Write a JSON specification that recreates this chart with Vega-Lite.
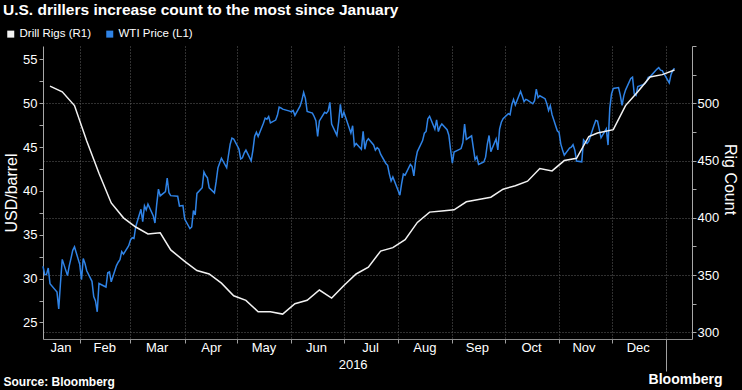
{
  "$schema": "https://vega.github.io/schema/vega-lite/v6.json",
  "width": 649,
  "height": 293,
  "autosize": {"type": "none"},
  "padding": {"left": 43, "top": 46, "right": 50, "bottom": 51},
  "background": "#000000",
  "config": {
    "font": "Liberation Sans",
    "view": {"stroke": null},
    "axis": {"labelFont": "Liberation Sans", "titleFont": "Liberation Sans"},
    "legend": {"symbolType": "square"}
  },
  "title": {
    "text": "U.S. drillers increase count to the most since January",
    "anchor": "start",
    "frame": "group",
    "dx": -40,
    "offset": 10,
    "fontSize": 15.5,
    "fontWeight": "bold",
    "color": "#ffffff",
    "font": "Liberation Sans"
  },
  "datasets": {
    "wti": [
      {"date":"2016-01-11","price":31.41},{"date":"2016-01-12","price":30.44},{"date":"2016-01-13","price":30.48},{"date":"2016-01-14","price":31.20},{"date":"2016-01-15","price":29.42},{"date":"2016-01-19","price":28.46},{"date":"2016-01-20","price":26.55},{"date":"2016-01-21","price":29.53},{"date":"2016-01-22","price":32.19},{"date":"2016-01-25","price":30.34},{"date":"2016-01-26","price":31.45},{"date":"2016-01-27","price":32.30},{"date":"2016-01-28","price":33.22},{"date":"2016-01-29","price":33.62},
      {"date":"2016-02-01","price":31.62},{"date":"2016-02-02","price":29.88},{"date":"2016-02-03","price":32.28},{"date":"2016-02-04","price":31.72},{"date":"2016-02-05","price":30.89},{"date":"2016-02-08","price":29.69},{"date":"2016-02-09","price":27.94},{"date":"2016-02-10","price":27.45},{"date":"2016-02-11","price":26.21},{"date":"2016-02-12","price":29.44},{"date":"2016-02-16","price":29.04},{"date":"2016-02-17","price":30.66},{"date":"2016-02-18","price":30.77},{"date":"2016-02-19","price":29.64},{"date":"2016-02-22","price":31.48},{"date":"2016-02-23","price":31.87},{"date":"2016-02-24","price":32.15},{"date":"2016-02-25","price":33.07},{"date":"2016-02-26","price":32.78},{"date":"2016-02-29","price":33.75},
      {"date":"2016-03-01","price":34.40},{"date":"2016-03-02","price":34.66},{"date":"2016-03-03","price":34.57},{"date":"2016-03-04","price":35.92},{"date":"2016-03-07","price":37.90},{"date":"2016-03-08","price":36.50},{"date":"2016-03-09","price":38.29},{"date":"2016-03-10","price":37.84},{"date":"2016-03-11","price":38.50},{"date":"2016-03-14","price":37.18},{"date":"2016-03-15","price":36.34},{"date":"2016-03-16","price":38.46},{"date":"2016-03-17","price":40.20},{"date":"2016-03-18","price":39.44},{"date":"2016-03-21","price":39.91},{"date":"2016-03-22","price":41.45},{"date":"2016-03-23","price":39.79},{"date":"2016-03-24","price":39.46},{"date":"2016-03-28","price":39.39},{"date":"2016-03-29","price":38.28},{"date":"2016-03-30","price":38.32},{"date":"2016-03-31","price":38.34},
      {"date":"2016-04-01","price":36.79},{"date":"2016-04-04","price":35.70},{"date":"2016-04-05","price":35.89},{"date":"2016-04-06","price":37.75},{"date":"2016-04-07","price":37.26},{"date":"2016-04-08","price":39.72},{"date":"2016-04-11","price":40.36},{"date":"2016-04-12","price":42.17},{"date":"2016-04-13","price":41.76},{"date":"2016-04-14","price":41.50},{"date":"2016-04-15","price":40.36},{"date":"2016-04-18","price":39.78},{"date":"2016-04-19","price":41.08},{"date":"2016-04-20","price":42.63},{"date":"2016-04-21","price":43.18},{"date":"2016-04-22","price":43.73},{"date":"2016-04-25","price":42.64},{"date":"2016-04-26","price":44.04},{"date":"2016-04-27","price":45.33},{"date":"2016-04-28","price":46.03},{"date":"2016-04-29","price":45.92},
      {"date":"2016-05-02","price":44.78},{"date":"2016-05-03","price":43.65},{"date":"2016-05-04","price":43.78},{"date":"2016-05-05","price":44.32},{"date":"2016-05-06","price":44.66},{"date":"2016-05-09","price":43.44},{"date":"2016-05-10","price":44.66},{"date":"2016-05-11","price":46.23},{"date":"2016-05-12","price":46.70},{"date":"2016-05-13","price":46.21},{"date":"2016-05-16","price":47.72},{"date":"2016-05-17","price":48.31},{"date":"2016-05-18","price":48.19},{"date":"2016-05-19","price":48.49},{"date":"2016-05-20","price":47.75},{"date":"2016-05-23","price":48.08},{"date":"2016-05-24","price":48.62},{"date":"2016-05-25","price":49.56},{"date":"2016-05-26","price":49.48},{"date":"2016-05-27","price":49.33},{"date":"2016-05-31","price":49.10},
      {"date":"2016-06-01","price":49.01},{"date":"2016-06-02","price":49.17},{"date":"2016-06-03","price":48.62},{"date":"2016-06-06","price":49.69},{"date":"2016-06-07","price":50.36},{"date":"2016-06-08","price":51.23},{"date":"2016-06-09","price":50.56},{"date":"2016-06-10","price":49.07},{"date":"2016-06-13","price":48.88},{"date":"2016-06-14","price":48.49},{"date":"2016-06-15","price":48.01},{"date":"2016-06-16","price":46.21},{"date":"2016-06-17","price":47.98},{"date":"2016-06-20","price":48.96},{"date":"2016-06-21","price":48.85},{"date":"2016-06-22","price":49.13},{"date":"2016-06-23","price":50.11},{"date":"2016-06-24","price":47.64},{"date":"2016-06-27","price":46.33},{"date":"2016-06-28","price":47.85},{"date":"2016-06-29","price":49.88},{"date":"2016-06-30","price":48.33},
      {"date":"2016-07-01","price":48.99},{"date":"2016-07-05","price":46.60},{"date":"2016-07-06","price":47.43},{"date":"2016-07-07","price":45.14},{"date":"2016-07-08","price":45.41},{"date":"2016-07-11","price":44.76},{"date":"2016-07-12","price":46.80},{"date":"2016-07-13","price":44.75},{"date":"2016-07-14","price":45.68},{"date":"2016-07-15","price":45.95},{"date":"2016-07-18","price":45.24},{"date":"2016-07-19","price":44.65},{"date":"2016-07-20","price":44.94},{"date":"2016-07-21","price":44.75},{"date":"2016-07-22","price":44.19},{"date":"2016-07-25","price":43.13},{"date":"2016-07-26","price":42.92},{"date":"2016-07-27","price":41.92},{"date":"2016-07-28","price":41.14},{"date":"2016-07-29","price":41.60},
      {"date":"2016-08-01","price":40.06},{"date":"2016-08-02","price":39.51},{"date":"2016-08-03","price":40.83},{"date":"2016-08-04","price":41.93},{"date":"2016-08-05","price":41.80},{"date":"2016-08-08","price":43.02},{"date":"2016-08-09","price":42.77},{"date":"2016-08-10","price":41.71},{"date":"2016-08-11","price":43.49},{"date":"2016-08-12","price":44.49},{"date":"2016-08-15","price":45.74},{"date":"2016-08-16","price":46.58},{"date":"2016-08-17","price":46.79},{"date":"2016-08-18","price":48.22},{"date":"2016-08-19","price":48.52},{"date":"2016-08-22","price":47.05},{"date":"2016-08-23","price":48.10},{"date":"2016-08-24","price":46.77},{"date":"2016-08-25","price":47.33},{"date":"2016-08-26","price":47.64},{"date":"2016-08-29","price":46.98},{"date":"2016-08-30","price":46.35},{"date":"2016-08-31","price":44.70},
      {"date":"2016-09-01","price":43.16},{"date":"2016-09-02","price":44.44},{"date":"2016-09-06","price":44.83},{"date":"2016-09-07","price":45.50},{"date":"2016-09-08","price":47.62},{"date":"2016-09-09","price":45.88},{"date":"2016-09-12","price":46.29},{"date":"2016-09-13","price":44.90},{"date":"2016-09-14","price":43.58},{"date":"2016-09-15","price":43.91},{"date":"2016-09-16","price":43.03},{"date":"2016-09-19","price":43.30},{"date":"2016-09-20","price":43.85},{"date":"2016-09-21","price":45.34},{"date":"2016-09-22","price":46.32},{"date":"2016-09-23","price":44.48},{"date":"2016-09-26","price":45.93},{"date":"2016-09-27","price":44.67},{"date":"2016-09-28","price":47.05},{"date":"2016-09-29","price":47.83},{"date":"2016-09-30","price":48.24},
      {"date":"2016-10-03","price":48.81},{"date":"2016-10-04","price":48.69},{"date":"2016-10-05","price":49.83},{"date":"2016-10-06","price":50.44},{"date":"2016-10-07","price":49.81},{"date":"2016-10-10","price":51.35},{"date":"2016-10-11","price":50.79},{"date":"2016-10-12","price":50.18},{"date":"2016-10-13","price":50.44},{"date":"2016-10-14","price":50.35},{"date":"2016-10-17","price":49.94},{"date":"2016-10-18","price":50.29},{"date":"2016-10-19","price":51.60},{"date":"2016-10-20","price":50.63},{"date":"2016-10-21","price":50.85},{"date":"2016-10-24","price":50.52},{"date":"2016-10-25","price":49.96},{"date":"2016-10-26","price":49.18},{"date":"2016-10-27","price":49.72},{"date":"2016-10-28","price":48.70},{"date":"2016-10-31","price":46.86},
      {"date":"2016-11-01","price":46.67},{"date":"2016-11-02","price":45.34},{"date":"2016-11-03","price":44.66},{"date":"2016-11-04","price":44.07},{"date":"2016-11-07","price":44.89},{"date":"2016-11-08","price":44.98},{"date":"2016-11-09","price":45.27},{"date":"2016-11-10","price":44.66},{"date":"2016-11-11","price":43.41},{"date":"2016-11-14","price":43.32},{"date":"2016-11-15","price":45.81},{"date":"2016-11-16","price":45.57},{"date":"2016-11-17","price":45.42},{"date":"2016-11-18","price":45.69},{"date":"2016-11-21","price":47.49},{"date":"2016-11-22","price":48.03},{"date":"2016-11-23","price":47.96},{"date":"2016-11-25","price":46.06},{"date":"2016-11-28","price":47.08},{"date":"2016-11-29","price":45.23},{"date":"2016-11-30","price":49.44},
      {"date":"2016-12-01","price":51.06},{"date":"2016-12-02","price":51.68},{"date":"2016-12-05","price":51.79},{"date":"2016-12-06","price":50.93},{"date":"2016-12-07","price":49.77},{"date":"2016-12-08","price":50.84},{"date":"2016-12-09","price":51.50},{"date":"2016-12-12","price":52.83},{"date":"2016-12-13","price":52.98},{"date":"2016-12-14","price":51.04},{"date":"2016-12-15","price":50.90},{"date":"2016-12-16","price":51.90},{"date":"2016-12-19","price":52.12},{"date":"2016-12-20","price":52.23},{"date":"2016-12-21","price":52.49},{"date":"2016-12-22","price":52.95},{"date":"2016-12-23","price":53.02},{"date":"2016-12-27","price":53.90},{"date":"2016-12-28","price":54.06},{"date":"2016-12-29","price":53.77},{"date":"2016-12-30","price":53.72},
      {"date":"2017-01-03","price":52.33},{"date":"2017-01-04","price":53.26},{"date":"2017-01-05","price":53.76},{"date":"2017-01-06","price":53.99}
    ],
    "rigs": [
      {"date":"2016-01-15","rigs":515},{"date":"2016-01-22","rigs":510},{"date":"2016-01-29","rigs":498},{"date":"2016-02-05","rigs":467},{"date":"2016-02-12","rigs":439},{"date":"2016-02-19","rigs":413},{"date":"2016-02-26","rigs":400},{"date":"2016-03-04","rigs":392},{"date":"2016-03-11","rigs":386},{"date":"2016-03-18","rigs":387},{"date":"2016-03-24","rigs":372},{"date":"2016-04-01","rigs":362},{"date":"2016-04-08","rigs":354},{"date":"2016-04-15","rigs":351},{"date":"2016-04-22","rigs":343},{"date":"2016-04-29","rigs":332},{"date":"2016-05-06","rigs":328},{"date":"2016-05-13","rigs":318},{"date":"2016-05-20","rigs":318},{"date":"2016-05-27","rigs":316},{"date":"2016-06-03","rigs":325},{"date":"2016-06-10","rigs":328},{"date":"2016-06-17","rigs":337},{"date":"2016-06-24","rigs":330},{"date":"2016-07-01","rigs":341},{"date":"2016-07-08","rigs":351},{"date":"2016-07-15","rigs":357},{"date":"2016-07-22","rigs":371},{"date":"2016-07-29","rigs":374},{"date":"2016-08-05","rigs":381},{"date":"2016-08-12","rigs":396},{"date":"2016-08-19","rigs":405},{"date":"2016-08-26","rigs":406},{"date":"2016-09-02","rigs":407},{"date":"2016-09-09","rigs":414},{"date":"2016-09-16","rigs":416},{"date":"2016-09-23","rigs":418},{"date":"2016-09-30","rigs":425},{"date":"2016-10-07","rigs":428},{"date":"2016-10-14","rigs":432},{"date":"2016-10-21","rigs":443},{"date":"2016-10-28","rigs":441},{"date":"2016-11-04","rigs":450},{"date":"2016-11-11","rigs":452},{"date":"2016-11-18","rigs":471},{"date":"2016-11-23","rigs":474},{"date":"2016-12-02","rigs":477},{"date":"2016-12-09","rigs":498},{"date":"2016-12-16","rigs":510},{"date":"2016-12-23","rigs":523},{"date":"2016-12-30","rigs":525},{"date":"2017-01-06","rigs":529}
    ]
  },
  "resolve": {"scale": {"y": "independent"}, "axis": {"x": "independent"}},
  "layer": [
    {
      "data": {"name": "wti"},
      "mark": {"type": "line", "strokeWidth": 1.5},
      "encoding": {
        "x": {
          "field": "date",
          "type": "temporal",
          "scale": {
            "type": "utc",
            "domain": [{"year": 2016, "month": 1, "date": 11, "utc": true}, {"year": 2017, "month": 1, "date": 16, "utc": true}]
          },
          "axis": {
            "orient": "bottom",
            "values": [
              {"year": 2016, "month": 2, "date": 1, "utc": true},
              {"year": 2016, "month": 3, "date": 1, "utc": true},
              {"year": 2016, "month": 4, "date": 1, "utc": true},
              {"year": 2016, "month": 5, "date": 1, "utc": true},
              {"year": 2016, "month": 6, "date": 1, "utc": true},
              {"year": 2016, "month": 7, "date": 1, "utc": true},
              {"year": 2016, "month": 8, "date": 1, "utc": true},
              {"year": 2016, "month": 9, "date": 1, "utc": true},
              {"year": 2016, "month": 10, "date": 1, "utc": true},
              {"year": 2016, "month": 11, "date": 1, "utc": true},
              {"year": 2016, "month": 12, "date": 1, "utc": true},
              {"year": 2017, "month": 1, "date": 1, "utc": true}
            ],
            "labels": false,
            "ticks": true,
            "tickSize": {"condition": {"test": "utcmonth(datum.value) === 0", "value": 32}, "value": 4},
            "tickColor": "#a0a0a0",
            "grid": true,
            "gridColor": "#606060",
            "gridDash": [1, 2],
            "domain": true,
            "domainColor": "#8a8a8a",
            "title": "Source: Bloomberg",
            "titleX": -40,
            "titleY": 46,
            "titleAlign": "left",
            "titleBaseline": "alphabetic",
            "titleFontSize": 12,
            "titleFontWeight": "bold",
            "titleColor": "#ffffff"
          }
        },
        "y": {
          "field": "price",
          "type": "quantitative",
          "scale": {"domain": [23.11, 56.53], "nice": false, "zero": false},
          "axis": {
            "orient": "left",
            "values": [25, 27.5, 30, 32.5, 35, 37.5, 40, 42.5, 45, 47.5, 50, 52.5, 55],
            "labelExpr": "datum.value % 5 === 0 ? format(datum.value, 'd') : ''",
            "grid": false,
            "domain": true,
            "domainColor": "#a8a8a8",
            "tickColor": "#a8a8a8",
            "tickSize": 4,
            "labelColor": "#ffffff",
            "labelFontSize": 13,
            "labelPadding": 2,
            "title": "USD/barrel",
            "titleColor": "#ffffff",
            "titleFontSize": 16,
            "titleFontWeight": "normal",
            "titleX": -27,
            "titleBaseline": "alphabetic"
          }
        },
        "color": {
          "datum": "WTI Price (L1)",
          "type": "nominal",
          "scale": {"domain": ["Drill Rigs (R1)", "WTI Price (L1)"], "range": ["#f2f2f2", "#2f83e6"]},
          "legend": {
            "orient": "none",
            "legendX": -38,
            "legendY": -18,
            "direction": "horizontal",
            "title": null,
            "padding": 0,
            "symbolType": "square",
            "symbolSize": 49,
            "symbolStrokeWidth": 0,
            "labelColor": "#ffffff",
            "labelFontSize": 11.5,
            "labelFont": "Liberation Sans",
            "labelOffset": 3,
            "columnPadding": 12,
            "encode": {"symbols": {"update": {"shape": {"value": "square"}, "fill": {"scale": "color", "field": "value"}, "stroke": {"value": "transparent"}}}}
          }
        }
      }
    },
    {
      "data": {"name": "rigs"},
      "mark": {"type": "line", "strokeWidth": 1.5},
      "encoding": {
        "x": {
          "field": "date",
          "type": "temporal",
          "axis": {
            "orient": "bottom",
            "values": [
              {"year": 2016, "month": 1, "date": 21, "utc": true},
              {"year": 2016, "month": 2, "date": 15, "utc": true},
              {"year": 2016, "month": 3, "date": 16, "utc": true},
              {"year": 2016, "month": 4, "date": 16, "utc": true},
              {"year": 2016, "month": 5, "date": 16, "utc": true},
              {"year": 2016, "month": 6, "date": 15, "utc": true},
              {"year": 2016, "month": 7, "date": 16, "utc": true},
              {"year": 2016, "month": 8, "date": 16, "utc": true},
              {"year": 2016, "month": 9, "date": 15, "utc": true},
              {"year": 2016, "month": 10, "date": 16, "utc": true},
              {"year": 2016, "month": 11, "date": 15, "utc": true},
              {"year": 2016, "month": 12, "date": 16, "utc": true},
              {"year": 2016, "month": 7, "date": 6, "utc": true}
            ],
            "labelExpr": "utcdate(datum.value) === 6 ? ['', '2016'] : utcFormat(datum.value, '%b')",
            "labelOverlap": false,
            "labelBound": false,
            "labelFlush": false,
            "labelPadding": 2,
            "labelFontSize": 13,
            "labelColor": "#ffffff",
            "labelLineHeight": 17,
            "ticks": false,
            "grid": false,
            "domain": false,
            "title": "Bloomberg",
            "titleX": 679,
            "titleY": 44,
            "titleAlign": "right",
            "titleBaseline": "alphabetic",
            "titleFontSize": 14,
            "titleFontWeight": "bold",
            "titleColor": "#ffffff"
          }
        },
        "y": {
          "field": "rigs",
          "type": "quantitative",
          "scale": {"domain": [294.25, 550], "nice": false, "zero": false},
          "axis": {
            "orient": "right",
            "values": [300, 325, 350, 375, 400, 425, 450, 475, 500, 525, 550],
            "labelExpr": "datum.value % 50 === 0 && datum.value <= 500 ? format(datum.value, 'd') : ''",
            "grid": true,
            "gridColor": "#606060",
            "gridDash": [1, 2],
            "gridOpacity": {"condition": {"test": "datum.value % 50 === 0 && datum.value <= 500", "value": 1}, "value": 0},
            "domain": true,
            "domainColor": "#a8a8a8",
            "tickColor": "#a8a8a8",
            "tickSize": 4,
            "labelColor": "#ffffff",
            "labelFontSize": 13,
            "labelPadding": 1,
            "title": "Rig Count",
            "titleColor": "#ffffff",
            "titleFontSize": 16,
            "titleFontWeight": "normal",
            "titlePadding": 3,
            "titleY": 133
          }
        },
        "color": {"datum": "Drill Rigs (R1)", "type": "nominal"}
      }
    }
  ]
}
